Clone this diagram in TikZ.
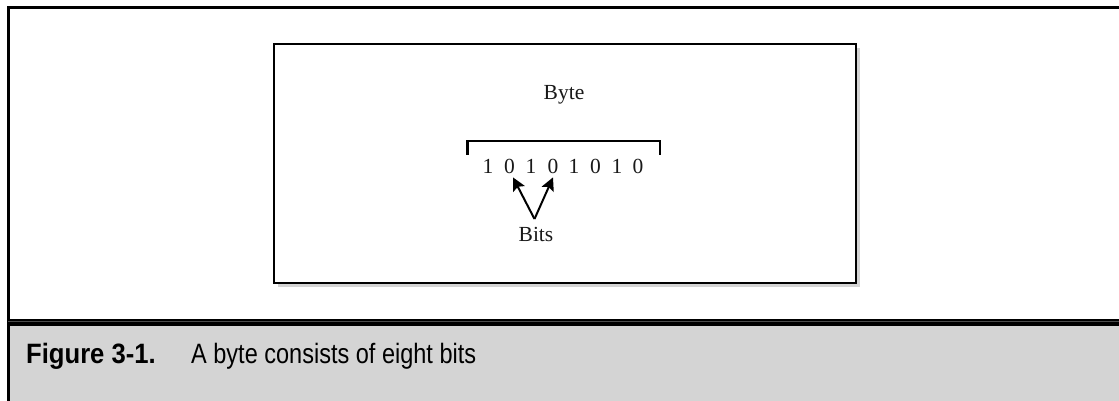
\documentclass[tikz,border=0pt]{standalone}
\usepackage{fontspec}
\setmainfont{Liberation Serif}
\newfontfamily\capfont[FakeStretch=0.84]{Liberation Sans}
\newfontfamily\figfont[FakeStretch=0.915]{Liberation Sans Bold}
\usetikzlibrary{arrows.meta}
\tikzset{
  lbl/.style={inner sep=0pt,anchor=base,font=\fontsize{21.5}{24}\selectfont,text=black!90},
  digit/.style={lbl},
  capt/.style={inner sep=0pt,anchor=base west,font=\capfont\fontsize{28}{30}\selectfont,text=black},
  figlabel/.style={inner sep=0pt,anchor=base west,font=\figfont\fontsize{28}{30}\selectfont,text=black},
  rule/.style={draw=black,line width=3pt},
  boxrule/.style={draw=black,line width=2.2pt},
  pointer/.style={draw=black,line width=2pt,-{Stealth[length=13pt,width=13pt,inset=2.5pt]}}
}
\begin{document}
\begin{tikzpicture}[x=1pt,y=-1pt]
\useasboundingbox (0,0) rectangle (1119,401);
\fill[white] (0,0) rectangle (1119,401);
% caption band
\fill[black!17] (8,324) rectangle (1119,401);
% outer frame
\draw[rule] (1119,8) -- (8.5,8) -- (8.5,401);
\fill[black] (8,319) rectangle (1119,326);
\draw[black!70,line width=0.8pt] (8,321.7) -- (1119,321.7);
% inner box with shadow
\fill[black!17] (278,48) rectangle (860,287);
\node[boxrule,fill=white,minimum width=582pt,minimum height=239pt,inner sep=0pt,anchor=north west] (box) at (272.5,43) {};
% texts
\node[lbl] (byte) at (564,100) {Byte};
\node[digit] (d1) at (488,173) {1};
\node[digit] (d2) at (509.5,173) {0};
\node[digit] (d3) at (531,173) {1};
\node[digit] (d4) at (553,173) {0};
\node[digit] (d5) at (574,173) {1};
\node[digit] (d6) at (595.5,173) {0};
\node[digit] (d7) at (617,173) {1};
\node[digit] (d8) at (638,173) {0};
\node[lbl] (bits) at (536,241) {Bits};
% bracket
\draw[boxrule,line cap=butt] (467.5,155) -- (467.5,141) -- (660,141) -- (660,155);
% arrows
\coordinate (apex) at (534.5,219);
\draw[pointer] (apex) -- ([xshift=3.5pt,yshift=-4pt]d2.south);
\draw[pointer] (apex) -- ([yshift=-4pt]d4.south);
% caption
\node[figlabel] (fig) at (26,363) {Figure 3-1.};
\node[capt] (txt) at (191,363) {A byte consists of eight bits};
\end{tikzpicture}
\end{document}
